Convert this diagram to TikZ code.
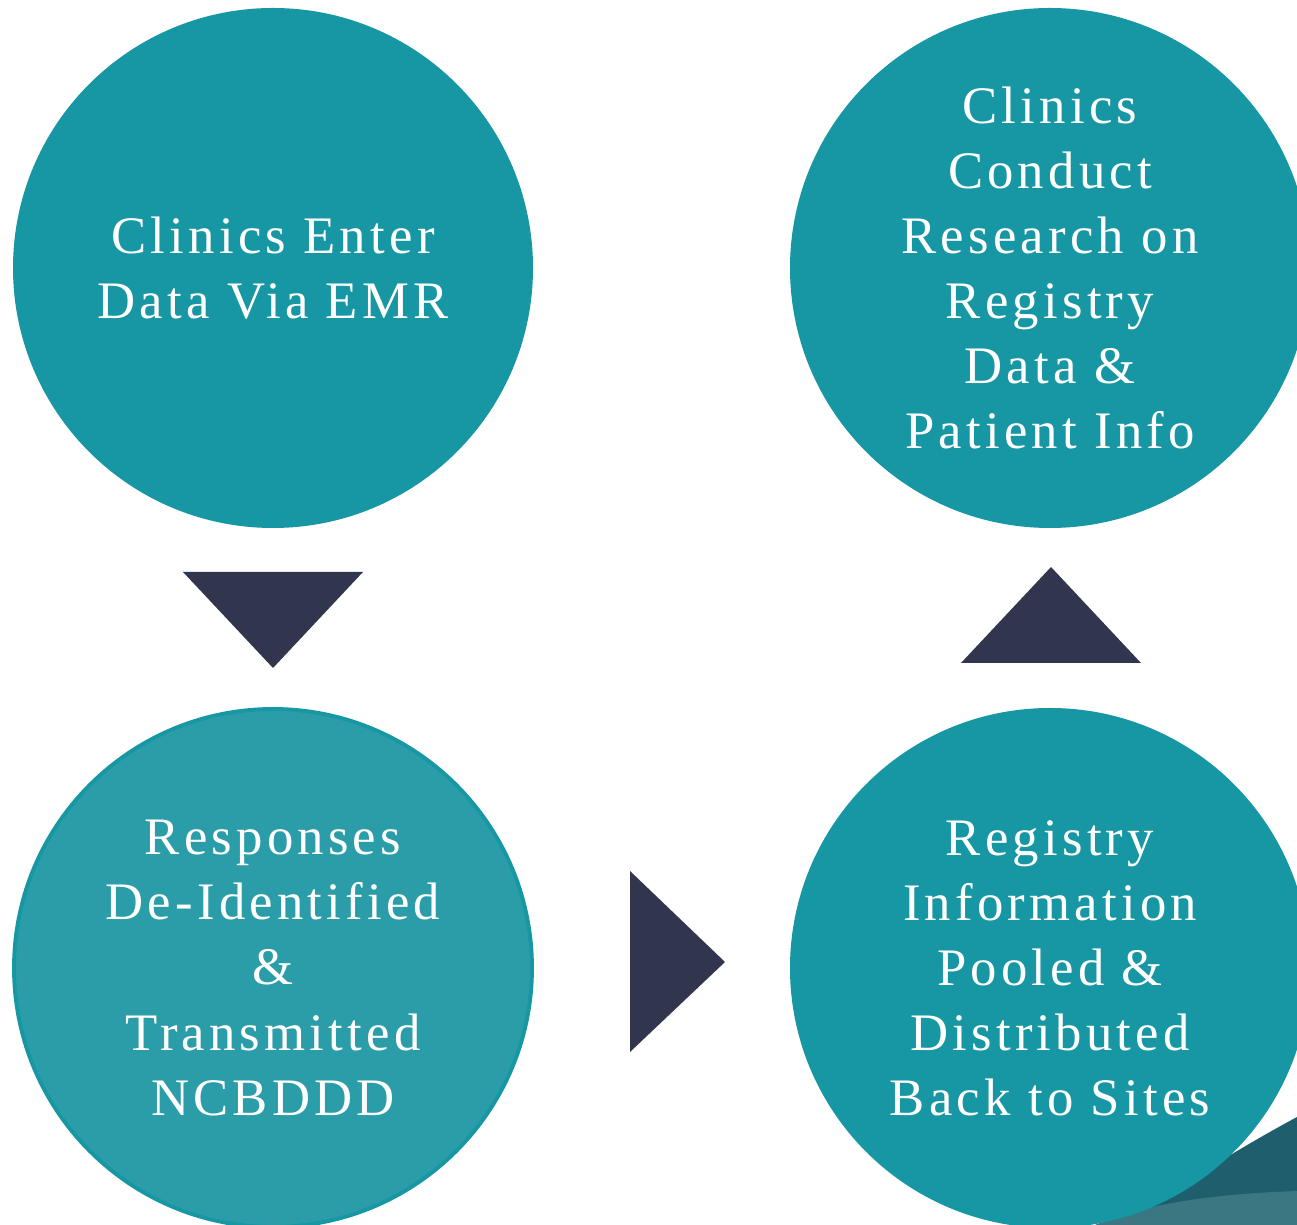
\documentclass[tikz,border=0pt]{standalone}
\usepackage{fontspec}
\setmainfont{Liberation Serif}[LetterSpace=8]
\usepackage{tikz}
\usetikzlibrary{positioning, calc}
\usepackage{xcolor}
\definecolor{rgTeal}{RGB}{23, 150, 163}
\definecolor{rgTealLight}{RGB}{43, 157, 168}
\definecolor{rgNavy}{RGB}{49, 53, 78}
\definecolor{rgDeep}{RGB}{31, 94, 108}
\definecolor{rgSlate}{RGB}{59, 118, 131}

\begin{document}
\begin{tikzpicture}[
          stage/.style={circle, fill=rgTeal, minimum size=10.4cm, inner sep=0pt,
                        align=center, text=white, font=\fontsize{30}{37}\selectfont},
          stagelight/.style={stage, fill=rgTealLight, draw=rgTeal, line width=2.2pt},
          tri/.style={fill=rgNavy}]
        \useasboundingbox (0,0) rectangle (25.94,24.5);
        % corner swoosh, behind the circles
        \begin{scope}
          \clip (0,0) rectangle (25.94,24.5);
          \fill[rgDeep] (25.94,2.16) .. controls (24.9,1.6) and (23.4,0.7) .. (22.5,0)
                -- (25.94,0) -- cycle;
          \fill[rgSlate] (21.9,0) .. controls (22.8,0.4) and (24.2,0.62) .. (25.94,0.68)
                -- (25.94,0) -- cycle;
          \node[stage] (research) at (21.0,19.14)
                {Clinics\\Conduct\\Research on\\Registry\\Data \&\\Patient Info};
          \node[stage] (pooled) at (21.0,5.14)
                {Registry\\Information\\Pooled \&\\Distributed\\Back to Sites};
        \end{scope}
        \node[stage] (enter) at (5.46,19.14) {Clinics Enter\\Data Via EMR};
        \node[stagelight, minimum size=10.36cm] (deident) at (5.46,5.14)
              {Responses\\De-Identified\\\&\\Transmitted\\NCBDDD};
        % step markers
        \fill[tri] (3.66,13.06) -- (7.26,13.06) -- (5.46,11.14) -- cycle;
        \fill[tri] (12.6,7.08) -- (14.5,5.26) -- (12.6,3.46) -- cycle;
        \fill[tri] (19.22,11.24) -- (22.82,11.24) -- (21.02,13.16) -- cycle;
      \end{tikzpicture}
\end{document}
